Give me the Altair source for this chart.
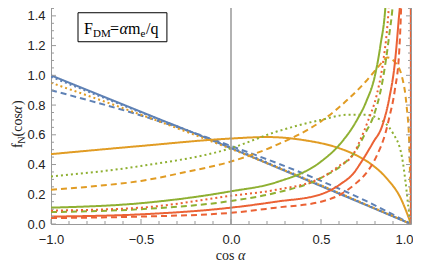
import altair as alt
import pandas as pd

# ---- data ----
blue_solid_x = [-1, -0.5, 0, 0.5, 1]
blue_solid_y = [1.0, 0.755, 0.51, 0.255, 0.0]
blue_dotted_x = [-1, -0.5, 0, 0.5, 1]
blue_dotted_y = [0.99, 0.75, 0.515, 0.26, 0.0]
blue_dashed_x = [-1, -0.5, 0, 0.5, 0.75, 1]
blue_dashed_y = [0.90, 0.73, 0.525, 0.29, 0.155, 0.0]

orange_solid_x = [-1, -0.5, 0, 0.2, 0.4, 0.6, 0.7, 0.77, 0.87, 0.94, 1.0]
orange_solid_y = [0.47, 0.525, 0.575, 0.585, 0.565, 0.51, 0.46, 0.41, 0.30, 0.18, 0.0]
orange_dotted_x = [-1, -0.5, 0, 0.5, 1]
orange_dotted_y = [0.95, 0.735, 0.505, 0.26, 0.0]
orange_dashed_x = [-1, -0.75, -0.5, -0.25, 0, 0.25, 0.5, 0.66, 0.75, 0.82, 0.87, 0.91, 0.95, 0.975, 0.99, 1.0]
orange_dashed_y = [0.23, 0.255, 0.29, 0.35, 0.42, 0.53, 0.69, 0.85, 0.96, 1.06, 1.12, 1.09, 0.99, 0.80, 0.55, 0.0]

green_solid_x = [-1, -0.5, 0, 0.25, 0.5, 0.6, 0.7, 0.75, 0.8, 0.83, 0.86, 0.88]
green_solid_y = [0.11, 0.14, 0.22, 0.28, 0.42, 0.53, 0.70, 0.82, 1.0, 1.2, 1.5, 2.0]
green_dotted_x = [-1, -0.5, 0, 0.25, 0.5, 0.65, 0.75, 0.8, 0.9, 0.95, 0.97, 0.99, 1.0]
green_dotted_y = [0.32, 0.39, 0.51, 0.62, 0.70, 0.735, 0.735, 0.72, 0.61, 0.45, 0.28, 0.07, 0.0]
green_dashed_x = [-1, -0.5, 0, 0.25, 0.5, 0.64, 0.68, 0.75, 0.79, 0.84, 0.88, 0.9, 0.92]
green_dashed_y = [0.08, 0.10, 0.155, 0.21, 0.31, 0.42, 0.47, 0.62, 0.72, 0.95, 1.28, 1.5, 2.0]

red_solid_x = [-1, -0.5, 0, 0.25, 0.5, 0.61, 0.68, 0.72, 0.79, 0.84, 0.88, 0.91, 0.93, 0.945, 0.96, 0.998, 1.0]
red_solid_y = [0.05, 0.065, 0.11, 0.15, 0.20, 0.27, 0.34, 0.41, 0.55, 0.66, 0.85, 1.08, 1.35, 1.6, 2.2, 2.2, 0.0]
red_dotted_x = [-1, -0.5, 0, 0.25, 0.5, 0.6, 0.68, 0.72, 0.76, 0.81, 0.84, 0.87, 0.89]
red_dotted_y = [0.09, 0.11, 0.19, 0.23, 0.31, 0.39, 0.47, 0.57, 0.69, 0.87, 1.05, 1.35, 1.7]
red_dashed_x = [-1, -0.5, 0, 0.25, 0.5, 0.61, 0.7, 0.75, 0.81, 0.86, 0.88, 0.91, 0.935, 0.945, 0.96]
red_dashed_y = [0.04, 0.05, 0.075, 0.11, 0.15, 0.20, 0.28, 0.34, 0.46, 0.62, 0.72, 0.9, 1.17, 1.45, 2.2]

x_major = [-1, -0.5, 0, 0.5, 1]
x_minor = [-0.9, -0.8, -0.7, -0.6, -0.4, -0.3, -0.2, -0.1, 0.1, 0.2, 0.3, 0.4, 0.6, 0.7, 0.8, 0.9]
y_major = [0, 0.2, 0.4, 0.6, 0.8, 1.0, 1.2, 1.4]
y_minor = [0.05, 0.1, 0.15, 0.25, 0.3, 0.35, 0.45, 0.5, 0.55, 0.65, 0.7, 0.75, 0.85, 0.9, 0.95,
           1.05, 1.1, 1.15, 1.25, 1.3, 1.35, 1.45]

series = [
    ("blue", "solid", blue_solid_x, blue_solid_y),
    ("blue", "dotted", blue_dotted_x, blue_dotted_y),
    ("blue", "dashed", blue_dashed_x, blue_dashed_y),
    ("orange", "solid", orange_solid_x, orange_solid_y),
    ("orange", "dotted", orange_dotted_x, orange_dotted_y),
    ("orange", "dashed", orange_dashed_x, orange_dashed_y),
    ("green", "solid", green_solid_x, green_solid_y),
    ("green", "dotted", green_dotted_x, green_dotted_y),
    ("green", "dashed", green_dashed_x, green_dashed_y),
    ("red", "solid", red_solid_x, red_solid_y),
    ("red", "dotted", red_dotted_x, red_dotted_y),
    ("red", "dashed", red_dashed_x, red_dashed_y),
]
rows = []
for k, (c, s, xs, ys) in enumerate(series):
    for i, (xv, yv) in enumerate(zip(xs, ys)):
        rows.append({"x": xv, "y": yv, "color": c, "style": s, "key": f"{k:02d}", "i": i})
df = pd.DataFrame(rows)

W, H = 360, 223
xscale = alt.Scale(domain=[-1, 1], nice=False, zero=False)
yscale = alt.Scale(domain=[0, 1.5], nice=False, zero=False)

ax_x = alt.Axis(values=x_major, format=".1f", tickSize=0, domain=False, grid=False, labelOverlap=False,
                labelFlush=False, labelFont="Liberation Sans", labelFontSize=13, labelColor="#222",
                labelPadding=9, title=None,
                labelAlign={"expr": "datum.value >= 1 ? 'right' : 'center'"},
                labelOffset={"expr": "datum.value >= 1 ? 2 : 0"})
ax_y = alt.Axis(values=y_major, format=".1f", tickSize=0, domain=False, grid=False, labelOverlap=False,
                labelFlush=False, labelFont="Liberation Sans", labelFontSize=13, labelColor="#222",
                labelPadding=6, title=None)

def X(field=None, datum=None):
    if datum is not None:
        return alt.X(datum=datum, type="quantitative", scale=xscale, axis=ax_x)
    return alt.X(field, type="quantitative", scale=xscale, axis=ax_x)

def Y(field=None, datum=None):
    if datum is not None:
        return alt.Y(datum=datum, type="quantitative", scale=yscale, axis=ax_y)
    return alt.Y(field, type="quantitative", scale=yscale, axis=ax_y)

lines = alt.Chart(df).mark_line(clip=True, strokeWidth=2, interpolate="monotone").encode(
    x=X("x"),
    y=Y("y"),
    color=alt.Color("color:N", scale=alt.Scale(domain=["blue", "orange", "green", "red"],
                                               range=["#5E81B5", "#E19C24", "#8FB032", "#EB6235"]),
                    legend=None),
    strokeDash=alt.StrokeDash("style:N", scale=alt.Scale(domain=["solid", "dotted", "dashed"],
                                                         range=[[1, 0], [2, 3], [6, 4]]),
                              legend=None),
    detail="key:N",
    order="i:Q",
)

zero_line = alt.Chart().mark_rule(color="#999", strokeWidth=1.5).encode(x=X(datum=0))

tick_color = "#999"
xmaj = pd.DataFrame({"v": x_major})
xmin = pd.DataFrame({"v": x_minor})
ymaj = pd.DataFrame({"v": y_major})
ymin = pd.DataFrame({"v": y_minor})

def xticks(d, length):
    b = alt.Chart(d).mark_rule(color=tick_color, strokeWidth=1).encode(
        x=X("v"), y=alt.value(H), y2=alt.value(H - length))
    t = alt.Chart(d).mark_rule(color=tick_color, strokeWidth=1).encode(
        x=X("v"), y=alt.value(0), y2=alt.value(length))
    return b + t

def yticks(d, length):
    l = alt.Chart(d).mark_rule(color=tick_color, strokeWidth=1).encode(
        y=Y("v"), x=alt.value(0), x2=alt.value(length))
    r = alt.Chart(d).mark_rule(color=tick_color, strokeWidth=1).encode(
        y=Y("v"), x=alt.value(W), x2=alt.value(W - length))
    return l + r

ticks = xticks(xmaj, 5) + xticks(xmin, 3) + yticks(ymaj, 5) + yticks(ymin, 3)

# annotation box
box = alt.Chart().mark_rect(fill="white", stroke="black", strokeWidth=1).encode(
    x=X(datum=-0.85), x2=alt.datum(-0.356), y=Y(datum=1.421), y2=alt.datum(1.226))

serif = "Liberation Serif"
def piece(txt, dx, dy, size, style="normal"):
    return alt.Chart().mark_text(text=txt, font=serif, fontSize=size, fontStyle=style, align="left",
                                 baseline="alphabetic", dx=dx, dy=dy, color="black").encode(
        x=X(datum=-0.817), y=Y(datum=1.28))

label = (piece("F", 0, 0, 16) + piece("DM", 9, 3, 11) + piece("=", 26, 0, 16)
         + piece("α", 35.5, 0, 16, "italic") + piece("m", 44, 0, 16) + piece("e", 56.5, 3, 11)
         + piece("/q", 62, 0, 16))

# y-axis title (rotated), with subscript
def ypiece(txt, dx, dy, size, style="normal"):
    return alt.Chart().mark_text(text=txt, font=serif, fontSize=size, fontStyle=style, align="left",
                                 baseline="alphabetic", angle=270, dx=dx, dy=dy, color="#222").encode(
        x=alt.value(-29), y=alt.value(147))

ytitle = ypiece("f", 0, 0, 14) + ypiece("N", 4.2, 3, 10) + ypiece("(cos ", 11.5, 0, 14) \
    + ypiece("α", 34.5, 0, 14, "italic") + ypiece(")", 43, 0, 14)

# x-axis title
def xpiece(txt, xpos, align, style="normal"):
    return alt.Chart().mark_text(text=txt, font=serif, fontSize=14, fontStyle=style, align=align,
                                 baseline="alphabetic", color="#222").encode(
        x=alt.value(xpos), y=alt.value(259))

xtitle = xpiece("cos", 183.5, "right") + xpiece("α", 187, "left", "italic")

chart = alt.layer(lines, zero_line, ticks, box, label, ytitle, xtitle).properties(
    width=W, height=H,
    autosize=alt.AutoSizeParams(type="none"),
    padding={"left": 43, "top": -7, "right": 2, "bottom": 39},
).configure_view(stroke="#999", strokeWidth=1)

chart.save("out.html", embed_options={"renderer": "svg", "actions": False})
